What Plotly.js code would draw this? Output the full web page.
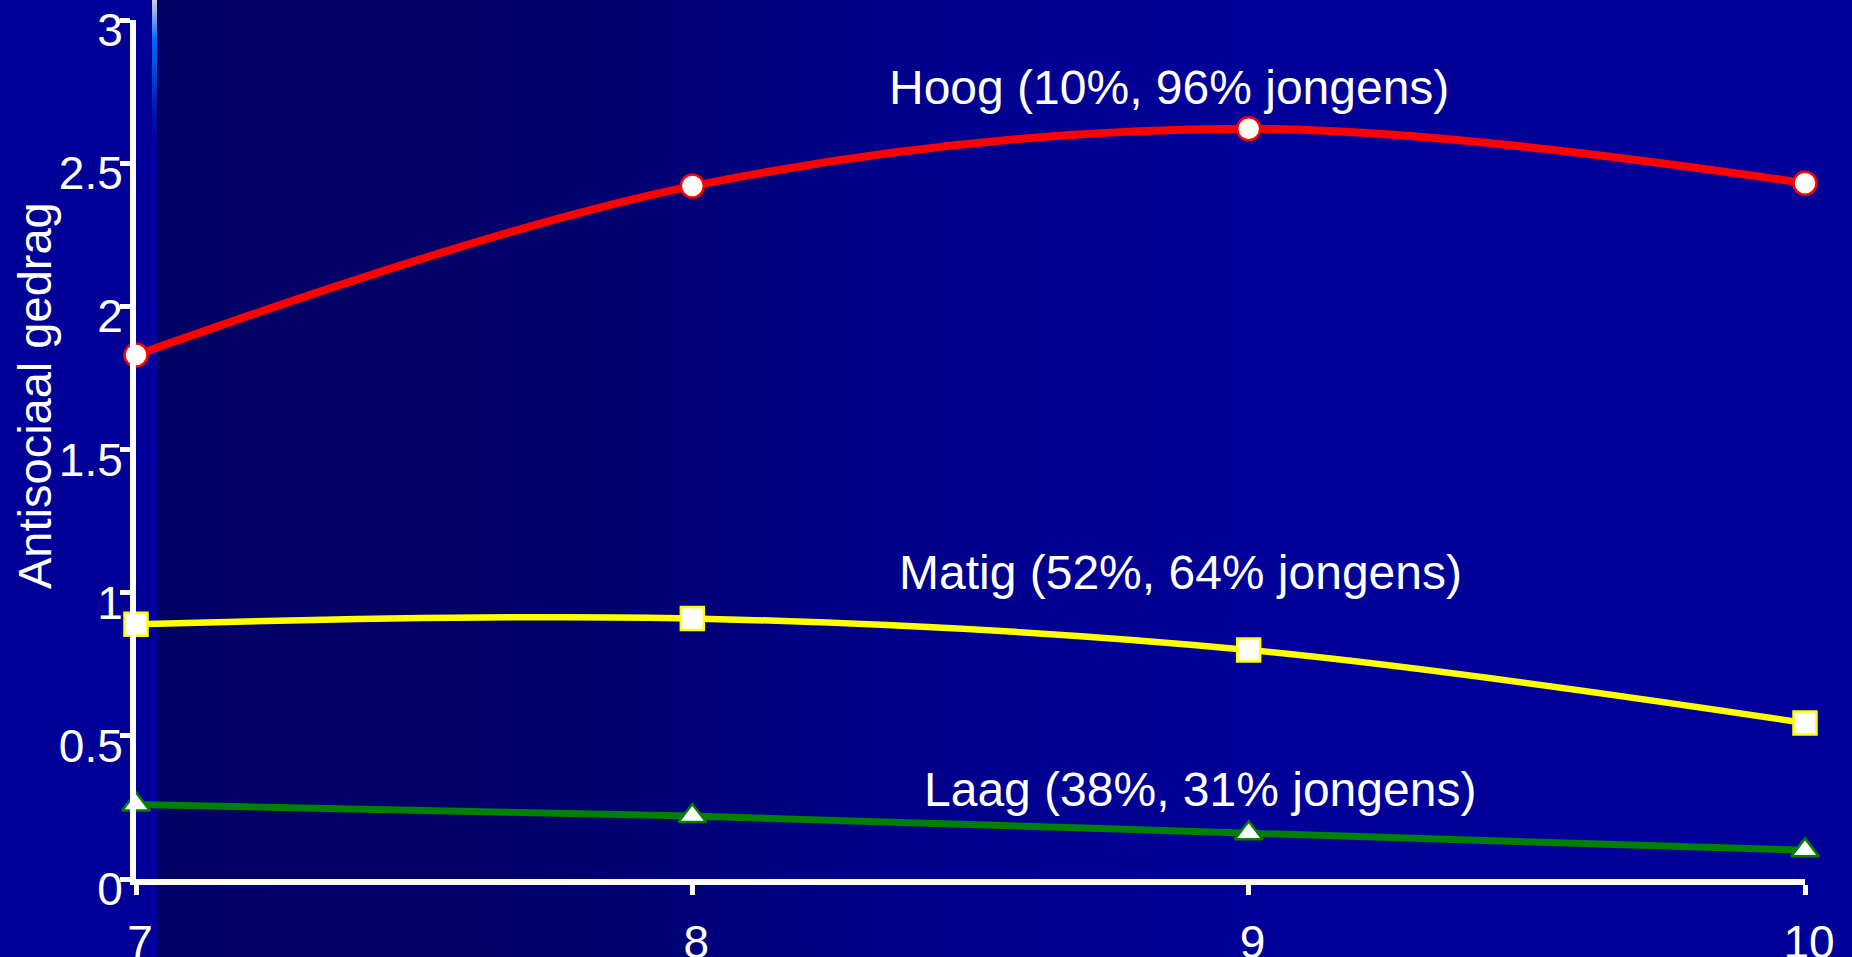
<!DOCTYPE html>
<html>
<head>
<meta charset="utf-8">
<script src="https://cdn.plot.ly/plotly-3.0.1.min.js"></script>
<style>
  html, body { margin: 0; padding: 0; width: 1852px; height: 957px; overflow: hidden; background: #000099; }
  #bg { position: absolute; left: 0; top: 0; width: 1852px; height: 957px;
        background: linear-gradient(to right, #000099 0px, #000099 152px, #000064 152px, #000068 500px, #00008e 950px, #000099 1250px, #000099 1852px); }
  #strip { position: absolute; left: 152px; top: 0; width: 5px; height: 957px;
        background: linear-gradient(to bottom, #c8d0e0 0px, #6f9cf0 20px, #0066ff 40px, #0050e0 65px, #0018a8 110px, #0000a0 140px, #0000a0 957px); }
  #chart { position: absolute; left: 0; top: 0; width: 1852px; height: 957px; }
</style>
</head>
<body>
<div id="bg"></div>
<div id="strip"></div>
<div id="chart"></div>
<script>
// Ages (years)
const ages = [7, 8, 9, 10];
// Series names (group, share, % boys)
const seriesNames = ["Hoog (10%, 96% jongens)", "Matig (52%, 64% jongens)", "Laag (38%, 31% jongens)"];
// Antisocial behaviour values per age
const hoog  = [1.83, 2.42, 2.62, 2.43];
const matig = [0.89, 0.91, 0.80, 0.545];
const laag  = [0.26, 0.22, 0.16, 0.10];
// Axis ticks
const yTicks = [0, 0.5, 1, 1.5, 2, 2.5, 3];
const yTickLabels = ["0", "0.5", "1", "1.5", "2", "2.5", "3"];
const xTickLabels = ["7", "8", "9", "10"];
const yTitle = "Antisociaal gedrag";

const FONT = "Arial, 'Liberation Sans', sans-serif";

const traces = [
  { x: ages, y: hoog, name: seriesNames[0], type: "scatter", mode: "lines+markers",
    line: { color: "#ff0000", width: 8, shape: "spline", smoothing: 1 },
    marker: { symbol: "circle", size: 23, color: "#ffffff", line: { color: "#ff0000", width: 2.5 } },
    cliponaxis: false },
  { x: ages, y: matig, name: seriesNames[1], type: "scatter", mode: "lines+markers",
    line: { color: "#ffff00", width: 6.5, shape: "spline", smoothing: 1 },
    marker: { symbol: "square", size: 23, color: "#ffffff", line: { color: "#ffff00", width: 2.5 } },
    cliponaxis: false },
  { x: ages, y: laag, name: seriesNames[2], type: "scatter", mode: "lines+markers",
    line: { color: "#008000", width: 7, shape: "spline", smoothing: 1 },
    marker: { symbol: "triangle-up", size: 24, color: "#ffffff", line: { color: "#008000", width: 2.5 } },
    cliponaxis: false }
];

const annFont = { family: FONT, size: 48, color: "#ffffff" };
const layout = {
  width: 1852, height: 957,
  margin: { l: 136, r: 47, t: 20, b: 78, pad: 0 },
  paper_bgcolor: "rgba(0,0,0,0)",
  plot_bgcolor: "rgba(0,0,0,0)",
  showlegend: false,
  hovermode: false,
  font: { family: FONT, color: "#ffffff" },
  xaxis: {
    range: [7, 10], tickvals: ages, ticktext: xTickLabels,
    showgrid: false, zeroline: false,
    showline: true, linecolor: "#ffffff", linewidth: 6,
    ticks: "outside", ticklen: 10, tickwidth: 5, tickcolor: "#ffffff",
    tickfont: { family: FONT, size: 46, color: "#ffffff" },
    ticklabelstandoff: 8, ticklabelshift: 4, ticklabeloverflow: "allow"
  },
  yaxis: {
    range: [0, 3], tickvals: yTicks, ticktext: yTickLabels,
    showgrid: false, zeroline: false,
    showline: true, linecolor: "#ffffff", linewidth: 6,
    ticks: "outside", ticklen: 10, tickwidth: 5, tickcolor: "#ffffff",
    tickfont: { family: FONT, size: 46, color: "#ffffff" },
    ticklabelstandoff: -12, ticklabelshift: 10, ticklabeloverflow: "allow"
  },
  annotations: [
    { text: yTitle, textangle: -90, xref: "paper", yref: "paper", x: 0, y: 0.5623, xshift: -101,
      showarrow: false, xanchor: "center", yanchor: "middle",
      font: { family: FONT, size: 47, color: "#ffffff" } },
    { text: seriesNames[0], x: 8.857, y: 2.763, xref: "x", yref: "y", showarrow: false, font: annFont, xanchor: "center", yanchor: "middle" },
    { text: seriesNames[1], x: 8.877, y: 1.069, xref: "x", yref: "y", showarrow: false, font: annFont, xanchor: "center", yanchor: "middle" },
    { text: seriesNames[2], x: 8.912, y: 0.311, xref: "x", yref: "y", showarrow: false, font: annFont, xanchor: "center", yanchor: "middle" }
  ]
};

Plotly.newPlot("chart", traces, layout, { staticPlot: true, displayModeBar: false });
</script>
</body>
</html>
